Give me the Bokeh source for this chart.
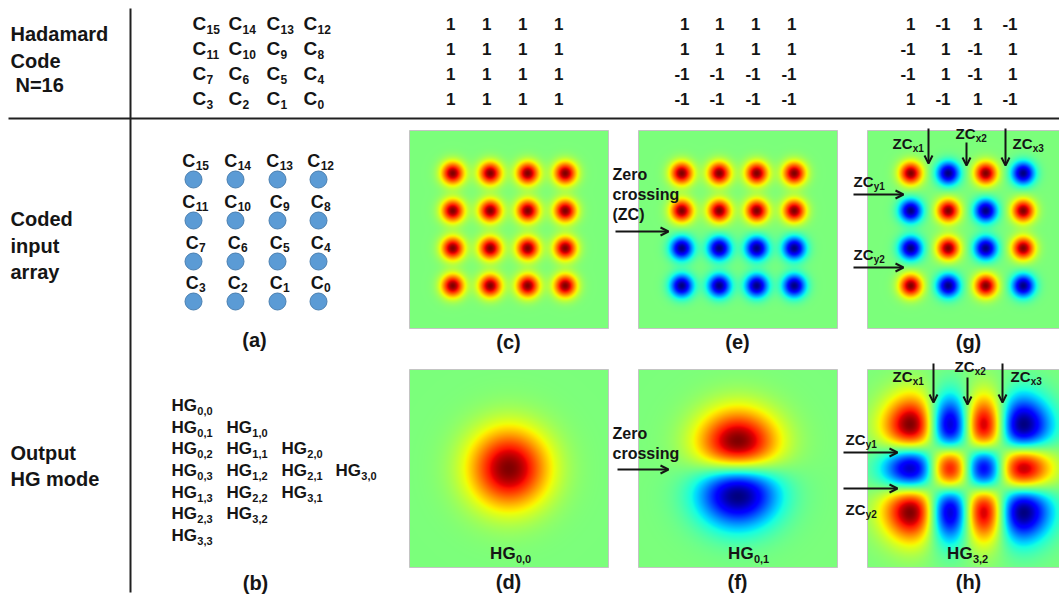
import numpy as np
from numpy.polynomial.hermite import hermval
from bokeh.plotting import figure
from bokeh.models import Range1d, Arrow, OpenHead, ColumnDataSource
from bokeh.core.properties import value
from bokeh.embed import file_html
from bokeh.resources import INLINE

W, H = 1059, 597
FONT = "Liberation Sans"
INK = "#151515"

# Hadamard codes on the 4x4 emitter grid, rows listed top to bottom
code_c = [[1, 1, 1, 1], [1, 1, 1, 1], [1, 1, 1, 1], [1, 1, 1, 1]]
code_e = [[1, 1, 1, 1], [1, 1, 1, 1], [-1, -1, -1, -1], [-1, -1, -1, -1]]
code_g = [[1, -1, 1, -1], [-1, 1, -1, 1], [-1, 1, -1, 1], [1, -1, 1, -1]]

# channel index of each emitter (C15 top-left ... C0 bottom-right)
channel_grid = [[15, 14, 13, 12], [11, 10, 9, 8], [7, 6, 5, 4], [3, 2, 1, 0]]

# HG modes reachable with N=16, grouped by total order m+n
hg_list = [(0, 0), (0, 1), (1, 0), (0, 2), (1, 1), (2, 0), (0, 3), (1, 2),
           (2, 1), (3, 0), (1, 3), (2, 2), (3, 1), (2, 3), (3, 2), (3, 3)]

# output modes shown in (d), (f), (h)
mode_d = (0, 0)
mode_f = (0, 1)
mode_h = (3, 2)

# Arial-bold advance widths (em) used to place subscripts
EM = {"C": .722, "H": .722, "G": .778, "Z": .611, ",": .278, "x": .556,
      "y": .556, "-": .333}


def ew(s):
    return sum(EM.get(ch, .556) for ch in s)


p = figure(width=W, height=H, x_range=Range1d(0, W), y_range=Range1d(0, H),
           output_backend="svg", toolbar_location=None, min_border=0,
           x_axis_type=None, y_axis_type=None,
           background_fill_color="white", border_fill_color="white")
p.xgrid.visible = False
p.ygrid.visible = False
p.outline_line_color = None


def Y(ys):
    # layout is written in top-down pixel rows
    return H - ys


# ---------- colour maps ----------
def jet_rgba(a):
    t = np.clip(0.5 + 0.5 * a, 0, 1)
    r = np.interp(t, [0, .35, .66, .89, 1], [0, 0, 1, 1, .5])
    g = np.interp(t, [0, .125, .375, .64, .91, 1], [0, 0, 1, 1, 0, 0])
    b = np.interp(t, [0, .11, .34, .65, 1], [.5, 1, 1, 0, 0])
    img = np.empty(a.shape, dtype=np.uint32)
    v = img.view(dtype=np.uint8).reshape(a.shape + (4,))
    v[..., 0] = np.round(r * 255)
    v[..., 1] = np.round(g * 255)
    v[..., 2] = np.round(b * 255)
    v[..., 3] = 255
    return img


PW, PH = 199, 198


def panel_grid(x0, top):
    xs = x0 + 0.5 + np.arange(PW)
    ys = top + PH - 0.5 - np.arange(PH)       # row 0 = bottom row
    X, Yp = np.meshgrid(xs, ys)
    return X, Yp, x0 + PW / 2, top + PH / 2


def spot_field(code, x0, top, pitch=37.5, sigma=8.0):
    X, Yp, cx, cy = panel_grid(x0, top)
    a = np.zeros_like(X)
    for r in range(4):
        for c in range(4):
            sx = cx + (c - 1.5) * pitch
            sy = cy + (r - 1.5) * pitch
            a += code[r][c] * np.exp(-((X - sx) ** 2 + (Yp - sy) ** 2) / (2 * sigma ** 2))
    return a / np.abs(a).max()


def hg_field(mode, x0, top, s=28.0):
    m, n = mode
    X, Yp, cx, cy = panel_grid(x0, top)
    u = (cx - X) / s
    v = (cy - Yp) / s
    a = hermval(u, [0] * m + [1]) * hermval(v, [0] * n + [1]) * np.exp(-(u ** 2 + v ** 2) / 2)
    return a / np.abs(a).max()


panels = [
    (409, 130, spot_field(code_c, 409, 130)),
    (638, 130, spot_field(code_e, 638, 130)),
    (867, 130, spot_field(code_g, 867, 130)),
    (409, 369, hg_field(mode_d, 409, 369)),
    (638, 369, hg_field(mode_f, 638, 369)),
    (867, 369, hg_field(mode_h, 867, 369)),
]
for x0, top, field in panels:
    p.image_rgba(image=[jet_rgba(field)], x=x0, y=Y(top + PH), dw=PW, dh=PH)
    p.quad(left=x0, right=x0 + PW, bottom=Y(top + PH), top=Y(top),
           fill_color=None, line_color="#c4c4c4", line_width=1)

# ---------- frame lines ----------
p.segment(x0=[130, 8], y0=[Y(8), Y(118)], x1=[130, W], y1=[Y(592), Y(118)],
          line_color="#202020", line_width=2)

# ---------- text helpers ----------
texts = {}


def put(x, y, t, size, align="left"):
    d = texts.setdefault((size, align), dict(x=[], y=[], t=[]))
    d["x"].append(x)
    d["y"].append(Y(y))
    d["t"].append(t)


def sub_text(x_left, y, base, sub, size, sub_size):
    xa = x_left + ew(base) * size
    put(xa, y, base, size, "right")
    put(xa + 0.3, y + 0.3 * size, sub, sub_size, "left")


def sub_text_c(xc, y, base, sub, size, sub_size):
    total = ew(base) * size + ew(sub) * sub_size
    sub_text(xc - total / 2, y, base, sub, size, sub_size)


# row headings
for t, x, y in [("Hadamard", 10, 33), ("Code", 10, 60), ("N=16", 15, 84),
                ("Coded", 10, 218), ("input", 10, 245), ("array", 10, 271),
                ("Output", 10, 452), ("HG mode", 10, 478)]:
    put(x, y, t, 20)

# code header: channel names and the three code sets
row_y = [23, 48, 73, 98]
name_x = [192, 228, 266, 303]
for r in range(4):
    for c in range(4):
        sub_text(name_x[c], row_y[r], "C", str(channel_grid[r][c]), 19, 12)

code_cols = [[455, 491, 527, 563], [689, 724, 760, 796], [915, 950, 982, 1017]]
for code, cols in zip([code_c, code_e, code_g], code_cols):
    for r in range(4):
        for c in range(4):
            put(cols[c], row_y[r], str(code[r][c]), 17, "right")

# (a) emitter array
dot_x = [193, 235, 277, 318]
dot_y = [179, 220, 261, 301]
dots = dict(x=[], y=[])
for r in range(4):
    for c in range(4):
        dots["x"].append(dot_x[c])
        dots["y"].append(Y(dot_y[r]))
        sub_text_c(dot_x[c] + 2, dot_y[r] - 19, "C", str(channel_grid[r][c]), 18, 12)
p.scatter(x="x", y="y", source=ColumnDataSource(dots), size=17, marker="circle",
          fill_color="#5b9bd5", line_color="#4a7fb0", line_width=1)

# (b) mode list
list_x = [171, 226, 281, 335]
list_y = [405, 427, 448, 470, 492, 513, 535]
for m, n in hg_list:
    order = m + n
    col = m - max(0, order - 3)
    sub_text(list_x[col], list_y[order], "HG", f"{m},{n}", 17, 11)

# panel captions
for t, x, y in [("(a)", 254, 339), ("(c)", 508, 341), ("(e)", 737, 341), ("(g)", 968, 341),
                ("(b)", 255, 582), ("(d)", 508, 581), ("(f)", 737, 581), ("(h)", 968, 581)]:
    put(x, y, t, 20, "center")

# mode names inside the lower panels
for (m, n), xc in [(mode_d, 510), (mode_f, 748), (mode_h, 967)]:
    sub_text_c(xc, 553, "HG", f"{m},{n}", 17, 11)

# zero-crossing notes
for t, y in [("Zero", 174), ("crossing", 194), ("(ZC)", 214), ("Zero", 433), ("crossing", 453)]:
    put(612, y, t, 16)

zc_labels = [("x1", 892, 143), ("x2", 955, 133), ("x3", 1012, 143),
             ("y1", 853, 181), ("y2", 853, 254),
             ("x1", 892, 376), ("x2", 954, 366), ("x3", 1010, 376),
             ("y1", 845, 439), ("y2", 845, 509)]
for sub, x, y in zc_labels:
    sub_text(x, y, "ZC", sub, 15, 10)

arrows = dict(
    xs=[615, 617, 928, 966, 1005, 853, 853, 933, 967, 1002, 843, 843],
    ys=[231, 469, 128, 142, 128, 194, 267, 363, 377, 363, 452, 488],
    xe=[668, 668, 928, 966, 1005, 903, 903, 933, 967, 1002, 897, 897],
    ye=[231, 469, 163, 165, 165, 194, 267, 402, 404, 402, 452, 488],
)
arrows["ys"] = [Y(v) for v in arrows["ys"]]
arrows["ye"] = [Y(v) for v in arrows["ye"]]
p.add_layout(Arrow(x_start="xs", y_start="ys", x_end="xe", y_end="ye",
                   source=ColumnDataSource(arrows), line_color=INK, line_width=2,
                   end=OpenHead(size=8, line_width=2, line_color=INK)))

for (size, align), d in texts.items():
    p.text(x="x", y="y", text="t", source=ColumnDataSource(d),
           text_font=value(FONT), text_font_style="bold", text_font_size=f"{size}px",
           text_align=align, text_baseline="middle", text_color=INK)

open("out.html", "w").write(file_html(p, INLINE))
